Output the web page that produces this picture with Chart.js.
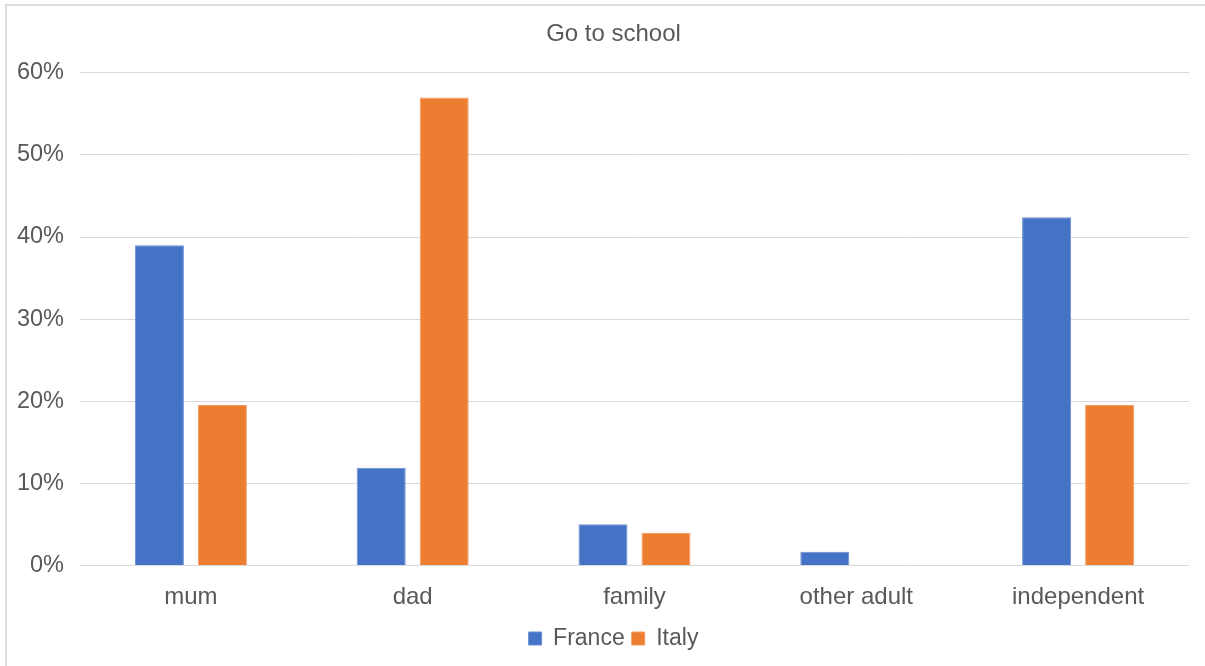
<!DOCTYPE html>
<html>
<head>
<meta charset="utf-8">
<script src="https://cdn.jsdelivr.net/npm/chart.js@4.4.1/dist/chart.umd.min.js"></script>
<style>
  html, body { margin: 0; padding: 0; background: #fff; }
  #wrap { position: relative; width: 1205px; height: 666px; overflow: hidden; }
  #frame { position: absolute; left: 5px; top: 4px; width: 1300px; height: 800px;
           border-left: 2px solid #dedede; border-top: 2px solid #dedede; box-sizing: border-box; }
  canvas { position: absolute; left: 0; top: 0; }
</style>
</head>
<body>
<div id="wrap">
  <div id="frame"></div>
  <canvas id="chart" width="1205" height="666"></canvas>
</div>
<script>
// Who children go to school with, share of answers per country (%)
const categories = ['mum', 'dad', 'family', 'other adult', 'independent'];
const franceValues = [39.0, 11.9, 5.0, 1.65, 42.4];
const italyValues = [19.55, 57.0, 3.95, 0, 19.55];
const yTicks = [0, 10, 20, 30, 40, 50, 60];

const textColor = '#595959';
const fontFamily = '"Liberation Sans", Arial, Helvetica, sans-serif';

// Let the percentage labels use the left margin instead of being clipped to the narrow axis box
const widenYLabelArea = {
  id: 'widenYLabelArea',
  afterLayout(chart) { chart.scales.y.left = 0; }
};

new Chart(document.getElementById('chart'), {
  type: 'bar',
  data: {
    labels: categories,
    datasets: [
      { label: 'France', data: franceValues, backgroundColor: '#4472C4',
        borderColor: '#6b8fd2', borderWidth: 1, borderSkipped: 'bottom' },
      { label: 'Italy', data: italyValues, backgroundColor: '#ED7D31',
        borderColor: '#f29c62', borderWidth: 1, borderSkipped: 'bottom' }
    ]
  },
  plugins: [widenYLabelArea],
  options: {
    responsive: false,
    animation: false,
    devicePixelRatio: 1,
    categoryPercentage: 0.568,
    barPercentage: 0.778,
    layout: { padding: { left: 38, right: 16, top: 10, bottom: 6 } },
    plugins: {
      title: {
        display: true,
        text: 'Go to school',
        color: textColor,
        font: { family: fontFamily, size: 24, weight: 'normal' },
        padding: { top: 10, bottom: 24 }
      },
      legend: {
        position: 'bottom',
        labels: {
          color: textColor,
          font: { family: fontFamily, size: 23 },
          boxWidth: 13,
          boxHeight: 13,
          padding: 7
        }
      },
      tooltip: { enabled: false }
    },
    scales: {
      x: {
        grid: { display: false },
        border: { display: false },
        ticks: { color: textColor, font: { family: fontFamily, size: 24 }, padding: 10 },
        afterFit: (scale) => { scale.height = 54.6; }
      },
      y: {
        min: 0,
        max: 60,
        afterBuildTicks: (scale) => { scale.ticks = yTicks.map(v => ({ value: v })); },
        grid: { color: '#d9d9d9', lineWidth: 1, drawTicks: false },
        border: { display: false },
        ticks: {
          color: textColor,
          font: { family: fontFamily, size: 23.5 },
          padding: 16,
          callback: (v) => v + '%'
        },
        afterFit: (scale) => { scale.width = 42; }
      }
    }
  }
});
</script>
</body>
</html>
